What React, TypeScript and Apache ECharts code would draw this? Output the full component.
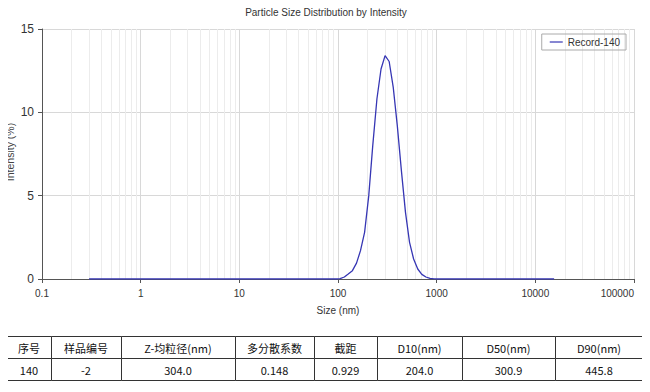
import React, { useEffect, useRef } from "react";
import * as echarts from "echarts";

const sizes = [0.3, 1, 10, 50, 96, 105, 116, 127, 140, 154, 169, 186, 205, 225, 248, 273, 300, 330, 363, 399, 439, 483, 531, 584, 643, 707, 778, 856, 941, 1035, 5000, 15500];
const intensity = [0, 0, 0, 0, 0, 0.02, 0.12, 0.3, 0.5, 0.95, 1.7, 2.8, 5.0, 8.0, 10.8, 12.6, 13.4, 13.05, 11.5, 9.2, 6.5, 4.0, 2.2, 1.2, 0.6, 0.28, 0.12, 0.04, 0.01, 0, 0, 0];

const tableHeaders = ["序号", "样品编号", "Z-均粒径(nm)", "多分散系数", "截距", "D10(nm)", "D50(nm)", "D90(nm)"];
const tableValues = ["140", "-2", "304.0", "0.148", "0.929", "204.0", "300.9", "445.8"];

const colX = [7, 51, 121, 235, 314, 377, 462, 555, 643];
const rowY = [336, 358, 380];

const FONT = "Liberation Sans, Arial, sans-serif";

export default function App() {
  const ref = useRef<HTMLDivElement>(null);
  useEffect(() => {
    if (!ref.current) return;
    const chart = echarts.init(ref.current, null, { renderer: "svg" });

    const minor: any[] = [];
    const major: any[] = [];
    for (let e = -1; e <= 5; e++) {
      const base = Math.pow(10, e);
      if (e > -1 && e < 5) major.push({ xAxis: Number(base.toPrecision(6)) });
      if (e < 5) {
        for (let m = 2; m <= 9; m++) minor.push({ xAxis: Number((m * base).toPrecision(6)) });
      }
    }

    const graphics: any[] = [];
    for (let r = 0; r < 2; r++) {
      for (let c = 0; c < tableHeaders.length; c++) {
        const x0 = colX[c];
        const x1 = colX[c + 1];
        const y0 = rowY[r];
        const y1 = rowY[r + 1];
        graphics.push({
          type: "rect",
          shape: { x: x0 + 0.5, y: y0 + 0.5, width: x1 - x0, height: y1 - y0 },
          style: { fill: "#fff", stroke: "#333", lineWidth: 1 },
        });
        graphics.push({
          type: "text",
          x: (x0 + x1) / 2,
          y: (y0 + y1) / 2 + 1,
          style: {
            text: r === 0 ? tableHeaders[c] : tableValues[c],
            fill: "#111",
            font: '11px "Noto Sans CJK SC", "Noto Sans", sans-serif',
            align: "center",
            verticalAlign: "middle",
          },
        });
      }
    }
    graphics.push({
      type: "text",
      x: 10,
      y: 152,
      rotation: Math.PI / 2,
      style: {
        text: "Intensity (%)",
        fill: "#444",
        font: "10.5px " + FONT,
        align: "center",
        verticalAlign: "middle",
      },
    });

    chart.setOption({
      animation: false,
      backgroundColor: "#fff",
      title: {
        text: "Particle Size Distribution by Intensity",
        left: 321,
        textAlign: "center",
        top: 2,
        textStyle: { fontSize: 10, fontWeight: "normal", color: "#333", fontFamily: FONT },
      },
      legend: {
        data: [{ name: "Record-140", icon: "rect" }],
        right: 24,
        top: 34,
        orient: "vertical",
        borderColor: "#aaa",
        borderWidth: 1,
        padding: [3, 6, 3, 8],
        itemWidth: 13,
        itemHeight: 1.2,
        itemGap: 4,
        textStyle: { fontSize: 10, color: "#333", fontFamily: FONT },
      },
      grid: { left: 42, right: 16, top: 29, bottom: 113, outerBoundsMode: "none" },
      xAxis: {
        type: "log",
        logBase: 10,
        min: 0.1,
        max: 100000,
        name: "Size (nm)",
        nameLocation: "middle",
        nameGap: 26,
        nameTextStyle: { fontSize: 10, color: "#333", fontFamily: FONT },
        axisLine: { lineStyle: { color: "#555" } },
        axisTick: { show: true, length: 4, lineStyle: { color: "#555" } },
        axisLabel: {
          fontSize: 10,
          color: "#333",
          margin: 9,
          fontFamily: FONT,
          alignMaxLabel: "right",
          formatter: (v: number) => String(Number(v.toPrecision(6))),
        },
        splitLine: { show: false },
      },
      yAxis: {
        type: "value",
        min: 0,
        max: 15,
        interval: 5,
        axisLine: { show: true, lineStyle: { color: "#555" } },
        axisTick: { show: true, length: 4, lineStyle: { color: "#555" } },
        axisLabel: { fontSize: 12, color: "#333", margin: 8, fontFamily: FONT },
        splitLine: { show: true, lineStyle: { color: "#d8d8d8" } },
      },
      series: [
        {
          name: "Record-140",
          type: "line",
          data: sizes.map((s, i) => [s, intensity[i]]),
          symbol: "none",
          showSymbol: false,
          lineStyle: { color: "#3636b4", width: 1.3 },
          itemStyle: { color: "#3636b4" },
          z: 5,
          markLine: {
            silent: true,
            symbol: ["none", "none"],
            label: { show: false },
            animation: false,
            data: [
              ...minor.map((d) => ({ ...d, lineStyle: { color: "#ececec", width: 1, type: "solid" } })),
              ...major.map((d) => ({ ...d, lineStyle: { color: "#d8d8d8", width: 1, type: "solid" } })),
              { xAxis: 100000, lineStyle: { color: "#d8d8d8", width: 1, type: "solid" } },
            ],
            z: 1,
          },
        },
      ],
      graphic: graphics,
    });
    return () => chart.dispose();
  }, []);
  return <div ref={ref} style={{ width: 650, height: 392, margin: -8 }} />;
}
